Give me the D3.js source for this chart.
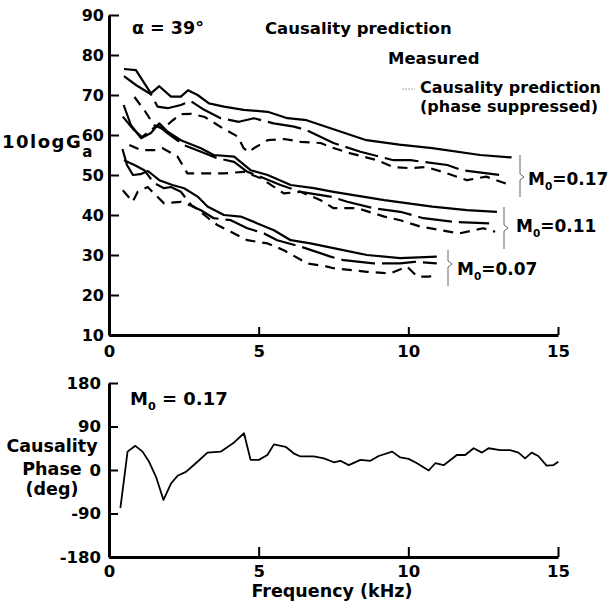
<!DOCTYPE html>
<html>
<head>
<meta charset="utf-8">
<script src="https://cdn.jsdelivr.net/npm/d3@7"></script>
<style>
body { margin: 0; background: #fff; }
text { font-family: "DejaVu Sans", sans-serif; font-weight: bold; fill: #000; }
</style>
</head>
<body>
<svg width="612" height="605"></svg>
<script>
// frequency (kHz), 10logGa (dB)
const m17Solid = [[0.5,76.5],[0.9,76.2],[1.4,70.4],[1.68,72.2],[2.07,69.6],[2.4,69.6],[2.64,71.2],[2.96,70],[3.34,67.9],[3.84,67.1],[4.5,66.3],[5.3,65.8],[5.96,64.2],[6.6,63.7],[7.4,61.7],[8.6,58.7],[9.7,57.6],[10.8,56.7],[12.4,55],[13.45,54.4]];
const m17Long = [[0.5,74.7],[0.9,72.5],[1.4,70.2],[1.62,67.1],[1.96,66.7],[2.4,67.5],[2.73,68.5],[3.18,66.3],[3.73,64.2],[4.34,63.3],[4.84,64.2],[5.5,62.9],[6.18,62.1],[6.6,61.2],[7.5,58],[8.4,55.8],[9.5,53.7],[10.07,53.7],[11.3,52.5],[11.8,51.2],[13.07,50]];
const m17Short = [[0.85,69.5],[1.2,66],[1.5,62.5],[1.8,61.5],[2.1,63.5],[2.4,65.2],[2.75,65.3],[3.2,64.5],[3.8,61.7],[4.3,59.6],[4.5,56.7],[4.67,55.7],[4.84,56.7],[5.3,58.7],[5.85,59],[6.4,58.3],[7.07,58],[7.4,57],[8.07,55.4],[8.96,53.7],[9.5,52],[10.07,51.7],[10.6,52],[11.3,50.4],[11.96,48.7],[12.6,49.6],[13.4,47.5]];

const m11Solid = [[0.49,67.5],[0.73,62.5],[1.07,59.2],[1.4,60.5],[1.68,62.9],[1.96,60.8],[2.4,58.7],[3.07,56.7],[3.5,55],[4.18,54.6],[4.73,51.2],[5.3,50],[6.07,47.5],[6.84,46.7],[7.5,45.8],[9.2,43.7],[10.8,42.1],[11.96,41.2],[12.96,40.8]];
const m11Long = [[0.46,64.6],[0.84,61.2],[1.1,59.5],[1.62,62.5],[1.96,60.4],[2.5,57.5],[3.07,55.8],[3.62,54.2],[4.18,53.3],[4.62,50.8],[5.18,49.2],[5.73,47.5],[6.4,45.8],[7.4,44.6],[7.96,43.3],[8.84,41.7],[9.73,40.8],[10.5,39.2],[11.5,38.3],[12.7,37.9]];
const m11Short = [[0.68,57.5],[1.07,56.2],[1.57,56.2],[1.79,56.7],[2.29,54.6],[2.62,50.4],[3.07,50.4],[3.84,50.4],[4.5,50.8],[5.07,49.2],[5.84,45.4],[6.4,45.8],[7.07,43.7],[7.5,41.7],[8.3,41.7],[9.2,39.6],[9.73,38.7],[10.4,37.1],[11.7,35.4],[12.5,36.7],[12.9,35.8]];

const m07Solid = [[0.45,56.5],[0.6,52.5],[0.8,50],[1.05,50.2],[1.3,51],[1.68,48.7],[2.12,47.5],[2.51,46.7],[2.96,44.6],[3.29,42.1],[3.84,40],[4.4,39.6],[4.96,37.9],[5.51,36.2],[6.07,33.7],[6.73,32.9],[7.5,31.7],[8.62,30],[9.73,29.2],[10.95,29.6]];
const m07Long = [[0.5,53.7],[0.85,52.5],[1.18,51.2],[1.5,48],[1.84,46.7],[2.07,47],[2.4,45.8],[2.79,42.1],[3.07,41.2],[3.5,39.2],[4.07,38.7],[4.62,36.7],[5.18,35.4],[5.62,33.7],[6.4,32.1],[7.4,29.6],[7.84,28.7],[8.84,27.9],[9.73,27.9],[10.2,28.3],[10.95,27.9]];
const m07Short = [[0.46,46.2],[0.79,43.3],[0.96,45.8],[1.29,47],[1.84,42.9],[2.4,43.3],[2.84,42.1],[3.4,38.7],[3.62,37.5],[4.07,35.8],[4.62,33.7],[5.3,32.9],[5.84,31.2],[6.62,27.9],[7.29,27.1],[7.5,26.7],[8.62,25.8],[9.4,25.4],[9.96,27.1],[10.3,24.6],[10.7,24.6],[10.84,25]];

// causality phase (deg) for M0 = 0.17
const phase = [[0.38,-79],[0.62,38],[0.88,50],[1.12,38],[1.34,17],[1.57,-14],[1.82,-62],[2.07,-28],[2.29,-12],[2.57,-4],[2.9,14],[3.29,36],[3.73,38],[4.18,57],[4.51,76],[4.73,21],[5.01,21],[5.29,31],[5.51,53],[5.9,48],[6.18,34],[6.4,28],[6.84,28],[7.18,24],[7.51,16],[7.73,19],[8.01,10],[8.4,21],[8.73,19],[9.01,29],[9.46,38],[9.73,26],[10.01,23],[10.29,14],[10.68,-1],[10.9,14],[11.18,10],[11.62,31],[11.9,31],[12.18,45],[12.46,36],[12.68,45],[13.07,41],[13.4,41],[13.68,36],[13.9,24],[14.12,36],[14.34,29],[14.62,9],[14.84,10],[15.01,17]];

const freqTicks = [0, 5, 10, 15];
const gainTicks = [10, 20, 30, 40, 50, 60, 70, 80, 90];
const phaseTicks = [-180, -90, 0, 90, 180];

const svg = d3.select("svg");

const x = d3.scaleLinear().domain([0, 15]).range([109, 558]);
const yTop = d3.scaleLinear().domain([10, 90]).range([335, 15]);
const yBot = d3.scaleLinear().domain([-180, 180]).range([557, 383]);

// plain hyphen minus like the original
const fmt = d => String(d);

function styleAxis(g, size) {
  g.select(".domain").attr("stroke-width", 3);
  g.selectAll(".tick line").attr("stroke-width", 2);
  g.selectAll(".tick text").style("font-size", size + "px");
}

// top panel axes
svg.append("g")
  .attr("transform", "translate(" + x(0) + ",0)")
  .call(d3.axisLeft(yTop).tickValues(gainTicks).tickFormat(fmt).tickSize(-10).tickSizeOuter(0).tickPadding(5))
  .call(g => styleAxis(g, 16));

svg.append("g")
  .attr("transform", "translate(0," + yTop(10) + ")")
  .call(d3.axisBottom(x).tickValues(freqTicks).tickFormat(fmt).tickSize(-8).tickSizeOuter(0).tickPadding(10))
  .call(g => styleAxis(g, 16.5));

// bottom panel axes
svg.append("g")
  .attr("transform", "translate(" + x(0) + ",0)")
  .call(d3.axisLeft(yBot).tickValues(phaseTicks).tickFormat(fmt).tickSize(-9).tickSizeOuter(0).tickPadding(8))
  .call(g => styleAxis(g, 16.5));

svg.append("g")
  .attr("transform", "translate(0," + yBot(-180) + ")")
  .call(d3.axisBottom(x).tickValues(freqTicks).tickFormat(fmt).tickSize(-10).tickSizeOuter(0).tickPadding(8))
  .call(g => styleAxis(g, 16.5));

// gain curves
const gainLine = d3.line().x(d => x(d[0])).y(d => yTop(d[1]));
const curves = [
  { data: m17Solid, dash: null }, { data: m17Long, dash: "34,7" }, { data: m17Short, dash: "10,7" },
  { data: m11Solid, dash: null }, { data: m11Long, dash: "34,7" }, { data: m11Short, dash: "10,7" },
  { data: m07Solid, dash: null }, { data: m07Long, dash: "34,7" }, { data: m07Short, dash: "10,7" }
];
svg.selectAll(".gain")
  .data(curves)
  .enter().append("path")
  .attr("class", "gain")
  .attr("d", d => gainLine(d.data))
  .attr("fill", "none")
  .attr("stroke", "#000")
  .attr("stroke-width", 2.2)
  .attr("stroke-linejoin", "round")
  .attr("stroke-dasharray", d => d.dash);

// phase curve
const phaseLine = d3.line().x(d => x(d[0])).y(d => yBot(d[1]));
svg.append("path")
  .attr("d", phaseLine(phase))
  .attr("fill", "none")
  .attr("stroke", "#000")
  .attr("stroke-width", 1.8)
  .attr("stroke-linejoin", "round");

// braces next to each group
const braces = [[520, 155, 197, 177], [504, 207, 249, 228], [448, 250, 286, 264]];
svg.selectAll(".brace")
  .data(braces)
  .enter().append("path")
  .attr("class", "brace")
  .attr("d", d => "M" + d[0] + "," + d[1] + "L" + d[0] + "," + (d[3] - 3) + "L" + (d[0] + 4) + "," + d[3] + "L" + d[0] + "," + (d[3] + 3) + "L" + d[0] + "," + d[2])
  .attr("fill", "none")
  .attr("stroke", "#666")
  .attr("stroke-width", 1);

function machLabel(xp, yp, val, size) {
  const t = svg.append("text").attr("x", xp).attr("y", yp).style("font-size", size + "px");
  t.append("tspan").text("M");
  t.append("tspan").attr("dy", 5).style("font-size", (size * 0.62) + "px").text("0");
  t.append("tspan").attr("dy", -5).text(val);
}
machLabel(528, 185, "=0.17", 17);
machLabel(516, 232, "=0.11", 17);
machLabel(457, 275, "=0.07", 17);
machLabel(130, 405, " = 0.17", 18);

// titles and legend text
svg.append("text").attr("x", 132).attr("y", 34).style("font-size", "17.5px").text("\u03b1 = 39\u00b0");
svg.append("text").attr("x", 265).attr("y", 34).style("font-size", "16.5px").text("Causality prediction");
svg.append("text").attr("x", 388).attr("y", 64).style("font-size", "16.5px").text("Measured");
svg.append("line").attr("x1", 402).attr("x2", 415).attr("y1", 89).attr("y2", 89)
  .attr("stroke", "#aaa").attr("stroke-width", 1).attr("stroke-dasharray", "2,1");
svg.append("text").attr("x", 420).attr("y", 93).style("font-size", "16px").text("Causality prediction");
svg.append("text").attr("x", 420).attr("y", 112).style("font-size", "16px").text("(phase suppressed)");

// axis titles
const gainTitle = svg.append("text").attr("x", 2).attr("y", 148).style("font-size", "18px").style("letter-spacing", "1.5px");
gainTitle.append("tspan").text("10logG");
gainTitle.append("tspan").attr("dy", 9).style("font-size", "15px").text("a");

[["Causality", 452], ["Phase", 475], ["(deg)", 495]].forEach(r => {
  svg.append("text").attr("x", 52).attr("y", r[1]).attr("text-anchor", "middle")
    .style("font-size", "17.5px").text(r[0]);
});

svg.append("text").attr("x", 332).attr("y", 597).attr("text-anchor", "middle")
  .style("font-size", "17.5px").text("Frequency (kHz)");
</script>
</body>
</html>
